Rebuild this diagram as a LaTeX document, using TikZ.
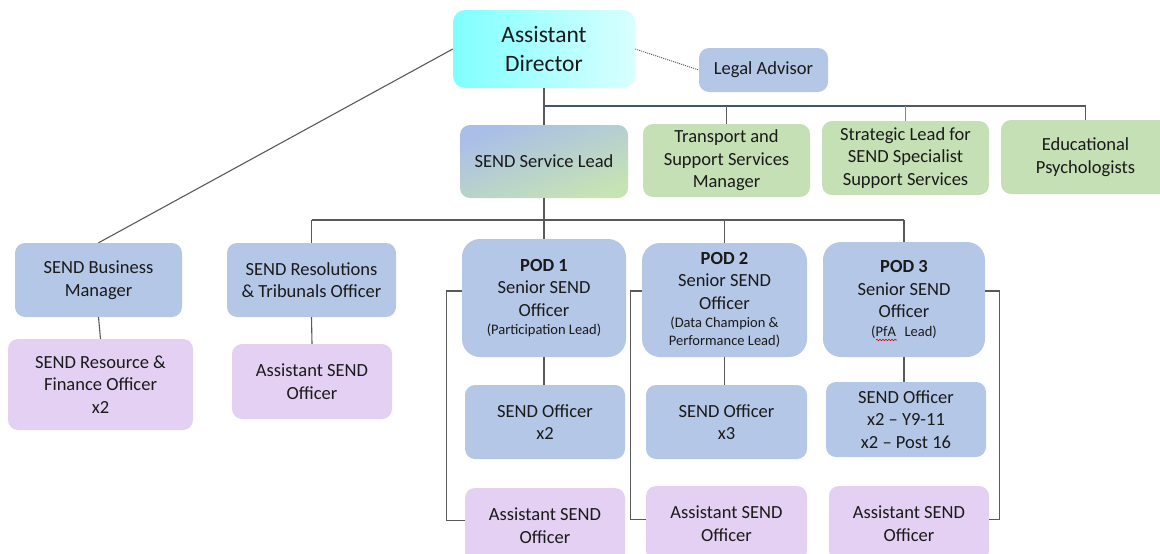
\documentclass[tikz,border=0pt]{standalone}
\usepackage{fontspec}
\setmainfont{Carlito}
\usetikzlibrary{decorations.pathmorphing}
\definecolor{bxblue}{HTML}{B4C7E7}
\definecolor{bxgreen}{HTML}{C5E0B4}
\definecolor{bxpurple}{HTML}{E3D0F2}
\definecolor{sslA}{HTML}{A9BEE8}
\definecolor{sslB}{HTML}{ADC2E3}
\definecolor{sslC}{HTML}{C6E3B4}
\definecolor{lngray}{HTML}{595959}
\definecolor{lndark}{HTML}{44546A}
\definecolor{txt}{HTML}{1A1A1A}
\tikzset{
  box/.style={rounded corners=10pt, align=center, inner sep=2pt, text=txt,
    font=\fontsize{18.5}{22.5}\selectfont},
  bluebox/.style={box, fill=bxblue},
  greenbox/.style={box, fill=bxgreen},
  purplebox/.style={box, fill=bxpurple},
  podbox/.style={bluebox, rounded corners=18pt},
  conn/.style={draw=lngray, line width=1.1pt},
  sz/.style 2 args={minimum width=#1pt, minimum height=#2pt},
}
\newcommand{\smalltxt}[1]{{\fontsize{14.5}{18}\selectfont #1}}
\begin{document}
\begin{tikzpicture}[x=1pt,y=-1pt]
\useasboundingbox (0,0) rectangle (1160,554);
% top level
\node[box, rounded corners=12pt, left color=cyan!50!white, right color=cyan!15!white, font=\fontsize{23.5}{29}\selectfont, sz={182}{78}] (AD) at (544,49) {Assistant\\Director};
\node[bluebox, sz={129}{44}] (LA) at (763.5,70) {Legal Advisor};
% second level
\node[box, shading=axis, top color=sslA, middle color=sslB, bottom color=sslC, shading angle=20, sz={168}{73}] (SSL) at (544,161.5) {SEND Service Lead};
\node[greenbox, sz={167}{73}] (TR) at (726.5,160.5) {Transport and\\Support Services\\Manager};
\node[greenbox, sz={167}{74}] (SL) at (905.5,158) {Strategic Lead for\\SEND Specialist\\Support Services};
\node[greenbox, sz={169}{74}] (EP) at (1085.5,157) {Educational\\Psychologists};
% third level
\node[bluebox, sz={167}{74}] (BM) at (98.5,280) {SEND Business\\Manager};
\node[purplebox, sz={185}{91}] (RF) at (100.5,384.5) {SEND Resource \&\\Finance Officer\\x2};
\node[bluebox, sz={169}{74}] (RT) at (311.5,280) {SEND Resolutions\\\& Tribunals Officer};
\node[purplebox, sz={160}{75}] (AS0) at (312,381.5) {Assistant SEND\\Officer};
% pods
\node[podbox, sz={164}{118}] (P1) at (544,298) {\textbf{POD 1}\\Senior SEND\\Officer\\[-4pt]\smalltxt{(Participation Lead)}};
\node[bluebox, sz={160}{74}] (O1) at (545,422) {SEND Officer\\x2};
\node[purplebox, sz={160}{75}] (A1) at (545,525.5) {Assistant SEND\\Officer};
\node[podbox, sz={165}{114}] (P2) at (724.5,300) {\textbf{POD 2}\\Senior SEND\\Officer\\[-4pt]\smalltxt{(Data Champion \&}\\[-4.5pt]\smalltxt{Performance Lead)}};
\node[bluebox, sz={161}{74}] (O2) at (726.5,422) {SEND Officer\\x3};
\node[purplebox, sz={161}{75}] (A2) at (726.5,523.5) {Assistant SEND\\Officer};
\node[podbox, sz={162}{115}] (P3) at (904,299.5) {\textbf{POD 3}\\Senior SEND\\Officer\\[-4pt]\smalltxt{(PfA\hspace{0.6em}Lead)}};
\node[bluebox, sz={160}{75}] (O3) at (906,419.5) {SEND Officer\\x2 – Y9-11\\x2 – Post 16};
\node[purplebox, sz={160}{75}] (A3) at (909,523.5) {Assistant SEND\\Officer};
% spell-check squiggle under PfA
\coordinate (sq1) at (876,340);
\coordinate (sq2) at (897,340);
\draw[red!85!black, line width=0.6pt, decorate, decoration={snake, amplitude=0.8pt, segment length=3pt}] (sq1) -- (sq2);
% bus coordinates
\coordinate (bus1) at (545,106);
\coordinate (bus2) at (545,220);
% connectors, top
\draw[conn] (AD.south) -- (SSL.north);
\draw[draw=lndark, line width=2.4pt] (bus1) -- (SL.north |- bus1);
\draw[conn] (SL.north |- bus1) -- (EP.north |- bus1);
\draw[conn] (TR.north |- bus1) -- (TR.north);
\draw[draw=bxblue!60!blue, line width=1pt] (SL.north |- bus1) -- (SL.north);
\draw[conn] (EP.north |- bus1) -- (EP.north);
\draw[conn, densely dotted, line width=0.9pt] (AD.east) -- (LA.west);
\draw[conn] (AD.west) -- (BM.north);
% connectors, middle
\draw[conn] (SSL.south) -- (P1.north);
\draw[conn] (RT.north |- bus2) -- (P3.north |- bus2);
\draw[conn] (RT.north |- bus2) -- (RT.north);
\draw[conn] (P2.north |- bus2) -- (P2.north);
\draw[conn] (P3.north |- bus2) -- (P3.north);
\draw[conn] (BM.south) -- (RF.north);
\draw[conn] (RT.south) -- (AS0.north);
\draw[conn] (P1.south) -- (O1.north -| P1.south);
\draw[conn] (P2.south) -- (O2.north -| P2.south);
\draw[conn] (P3.south) -- (O3.north -| P3.south);
% brackets
\draw[conn] ([yshift=7pt]P1.west) -- ++(-15,0) |- ([yshift=5pt]A1.west);
\draw[conn] ([yshift=9pt]P2.west) -- ++(-11,0) |- ([yshift=4pt]A2.west);
\draw[conn] ([yshift=8.5pt]P3.east) -- ++(14,0) |- ([yshift=4pt]A3.east);
\end{tikzpicture}
\end{document}
